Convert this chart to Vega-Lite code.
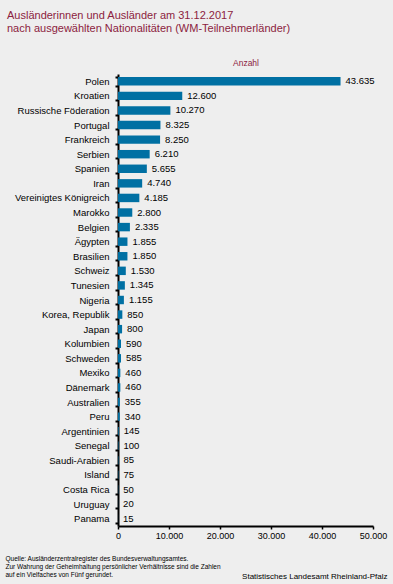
{
  "$schema": "https://vega.github.io/schema/vega-lite/v6.json",
  "width": 255,
  "height": 452,
  "autosize": {"type": "none"},
  "padding": {"left": 118, "top": 74, "right": 20, "bottom": 58},
  "background": "#eeeeee",
  "title": {
    "text": ["Ausländerinnen und Ausländer am 31.12.2017", "nach ausgewählten Nationalitäten (WM-Teilnehmerländer)"],
    "anchor": "start",
    "frame": "group",
    "dx": -111,
    "fontSize": 11,
    "fontWeight": "normal",
    "color": "#8c1d40",
    "font": "Liberation Sans",
    "lineHeight": 13,
    "offset": 24
  },
  "data": {
    "values": [
      {"land": "Polen", "anzahl": 43635},
      {"land": "Kroatien", "anzahl": 12600},
      {"land": "Russische Föderation", "anzahl": 10270},
      {"land": "Portugal", "anzahl": 8325},
      {"land": "Frankreich", "anzahl": 8250},
      {"land": "Serbien", "anzahl": 6210},
      {"land": "Spanien", "anzahl": 5655},
      {"land": "Iran", "anzahl": 4740},
      {"land": "Vereinigtes Königreich", "anzahl": 4185},
      {"land": "Marokko", "anzahl": 2800},
      {"land": "Belgien", "anzahl": 2335},
      {"land": "Ägypten", "anzahl": 1855},
      {"land": "Brasilien", "anzahl": 1850},
      {"land": "Schweiz", "anzahl": 1530},
      {"land": "Tunesien", "anzahl": 1345},
      {"land": "Nigeria", "anzahl": 1155},
      {"land": "Korea, Republik", "anzahl": 850},
      {"land": "Japan", "anzahl": 800},
      {"land": "Kolumbien", "anzahl": 590},
      {"land": "Schweden", "anzahl": 585},
      {"land": "Mexiko", "anzahl": 460},
      {"land": "Dänemark", "anzahl": 460},
      {"land": "Australien", "anzahl": 355},
      {"land": "Peru", "anzahl": 340},
      {"land": "Argentinien", "anzahl": 145},
      {"land": "Senegal", "anzahl": 100},
      {"land": "Saudi-Arabien", "anzahl": 85},
      {"land": "Island", "anzahl": 75},
      {"land": "Costa Rica", "anzahl": 50},
      {"land": "Uruguay", "anzahl": 20},
      {"land": "Panama", "anzahl": 15}
    ]
  },
  "encoding": {
    "y": {
      "field": "land",
      "type": "nominal",
      "sort": null,
      "scale": {"paddingInner": 0.42, "paddingOuter": 0.21},
      "axis": {
        "title": "Statistisches Landesamt Rheinland-Pfalz",
        "titleAngle": 0,
        "titleX": 269,
        "titleY": 504,
        "titleAlign": "right",
        "titleBaseline": "alphabetic",
        "titleFontSize": 8,
        "titleFontWeight": "normal",
        "titleColor": "#000000",
        "labelFontSize": 9.5,
        "labelColor": "#000000",
        "labelPadding": 6,
        "tickBand": "extent",
        "tickSize": 3,
        "tickWidth": 2,
        "tickColor": "#000000",
        "domainColor": "#000000",
        "domainWidth": 2,
        "grid": false
      }
    }
  },
  "layer": [
    {
      "mark": {"type": "bar", "color": "#0070a3"},
      "encoding": {
        "x": {
          "field": "anzahl",
          "type": "quantitative",
          "scale": {"domain": [0, 50000], "nice": false},
          "axis": {
            "orient": "bottom",
            "values": [0, 10000, 20000, 30000, 40000, 50000],
            "format": ",d",
            "grid": false,
            "domainColor": "#000000",
            "domainWidth": 2,
            "tickColor": "#000000",
            "tickWidth": 1.5,
            "tickSize": 3,
            "labelFontSize": 9,
            "labelColor": "#000000",
            "labelPadding": 2,
            "labelFlush": false,
            "title": ["Quelle: Ausländerzentralregister des Bundesverwaltungsamtes.", "Zur Wahrung der Geheimhaltung persönlicher Verhältnisse sind die Zahlen", "auf ein Vielfaches von Fünf gerundet."],
            "titleX": -113,
            "titleY": 29,
            "titleAlign": "left",
            "titleBaseline": "top",
            "titleAnchor": "start",
            "titleFontSize": 6.5,
            "titleLineHeight": 8,
            "titleFontWeight": "normal",
            "titleColor": "#000000"
          }
        }
      }
    },
    {
      "mark": {"type": "text", "align": "left", "baseline": "middle", "dx": 5, "fontSize": 9.5, "color": "#000000"},
      "encoding": {
        "x": {
          "field": "anzahl",
          "type": "quantitative",
          "axis": {
            "orient": "top",
            "labels": false,
            "ticks": false,
            "domain": false,
            "grid": false,
            "title": "Anzahl",
            "titleFontSize": 8.5,
            "titleFontWeight": "normal",
            "titleColor": "#8c1d40",
            "titleX": 127.5,
            "titleY": -12,
            "titleBaseline": "middle",
            "titleAlign": "center"
          }
        },
        "text": {"field": "anzahl", "type": "quantitative", "format": ",d"}
      }
    }
  ],
  "resolve": {"axis": {"x": "independent"}},
  "config": {
    "font": "Liberation Sans",
    "view": {"stroke": null},
    "locale": {"number": {"decimal": ",", "thousands": ".", "grouping": [3], "currency": ["", " €"]}}
  }
}
